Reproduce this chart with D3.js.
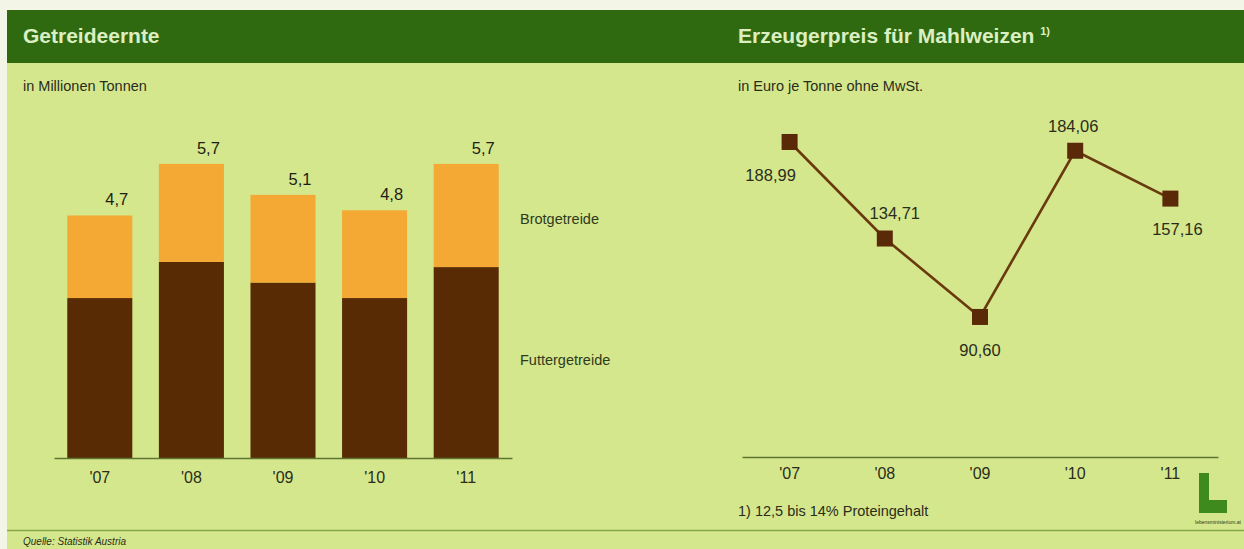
<!DOCTYPE html>
<html><head><meta charset="utf-8">
<script src="https://cdn.jsdelivr.net/npm/d3@7"></script>
<style>
html,body{margin:0;padding:0;background:#f3f6e6;}
svg{display:block;font-family:"Liberation Sans",Arial,Helvetica,sans-serif;}
</style></head>
<body>
<svg id="c" width="1244" height="549"></svg>
<script>
// ---- data ----
const years = ["'07","'08","'09","'10","'11"];
const futtergetreide = [3.1, 3.8, 3.4, 3.1, 3.7];
const brotgetreide   = [1.6, 1.9, 1.7, 1.7, 2.0];
const seriesNames = ["Futtergetreide","Brotgetreide"];
const priceYears = ["'07","'08","'09","'10","'11"];
const prices = [188.99, 134.71, 90.60, 184.06, 157.16];

const bg = "#d5e78d", header = "#2f6a10", orange = "#f4a934", brown = "#582b05";
const svg = d3.select("#c");
const comma = v => d3.format(".1f")(v).replace(".", ",");
const comma2 = v => d3.format(".2f")(v).replace(".", ",");

// panel background
svg.append("rect").attr("x",7).attr("y",63).attr("width",1237).attr("height",486).attr("fill",bg);
svg.append("rect").attr("x",7).attr("y",10).attr("width",1237).attr("height",53).attr("fill",header);
svg.append("text").attr("x",23).attr("y",43).attr("fill","#dcefc2").attr("font-size",21).attr("font-weight","bold").text("Getreideernte");
const t2 = svg.append("text").attr("x",738).attr("y",43).attr("fill","#dcefc2").attr("font-size",21).attr("font-weight","bold").text("Erzeugerpreis für Mahlweizen ");
t2.append("tspan").attr("font-size",11).attr("dy",-8).text("1)");
svg.append("text").attr("x",23).attr("y",91).attr("fill","#2a2d1a").attr("font-size",14.5).text("in Millionen Tonnen");
svg.append("text").attr("x",738).attr("y",91).attr("fill","#2a2d1a").attr("font-size",14.5).text("in Euro je Tonne ohne MwSt.");

// bottom divider
svg.append("line").attr("x1",7).attr("x2",1244).attr("y1",530.5).attr("y2",530.5).attr("stroke","#86a648").attr("stroke-width",1.5);
svg.append("text").attr("x",23).attr("y",545).attr("fill","#2a2d1a").attr("font-size",10).attr("font-style","italic").text("Quelle: Statistik Austria");

// ---- left: stacked bars ----
const x = d3.scaleBand().domain(years).range([54,512]).paddingInner(0.29).paddingOuter(0.145);
const y = d3.scaleLinear().domain([0,6]).range([458,148.4]);
const rows = years.map((yr,i)=>({year:yr, Futtergetreide:futtergetreide[i], Brotgetreide:brotgetreide[i]}));
const stack = d3.stack().keys(seriesNames)(rows);
const colors = {Futtergetreide:brown, Brotgetreide:orange};
svg.append("g").selectAll("g").data(stack).join("g").attr("fill",d=>colors[d.key])
  .selectAll("rect").data(d=>d).join("rect")
  .attr("x",d=>x(d.data.year)).attr("width",x.bandwidth())
  .attr("y",d=>y(d[1])).attr("height",d=>y(d[0])-y(d[1]));
svg.append("g").selectAll("text").data(rows).join("text")
  .attr("x",d=>x(d.year)+x.bandwidth()/2+17).attr("y",d=>y(d.Futtergetreide+d.Brotgetreide)-10)
  .attr("text-anchor","middle").attr("font-size",16.5).attr("fill","#1e1e12")
  .text(d=>comma(d.Futtergetreide+d.Brotgetreide));
const ax1 = svg.append("g").attr("transform","translate(0,458)")
  .call(d3.axisBottom(x).tickSize(0).tickPadding(13.5).tickSizeOuter(0));
ax1.select(".domain").attr("stroke","#5f7430").attr("stroke-width",1.5);
ax1.selectAll("text").attr("font-size",16).attr("fill","#2a2d1a").attr("font-family","Liberation Sans, Arial, sans-serif");
svg.append("text").attr("x",520).attr("y",224).attr("font-size",14.5).attr("fill","#2f3a1c").text("Brotgetreide");
svg.append("text").attr("x",520).attr("y",365).attr("font-size",14.5).attr("fill","#2f3a1c").text("Futtergetreide");

// ---- right: line ----
const x2 = d3.scaleBand().domain(priceYears).range([742,1218]);
const y2 = d3.scaleLinear().domain([0,200]).range([478.1,122.4]);
const pts = priceYears.map((yr,i)=>({year:yr, v:prices[i]}));
const cx = d => x2(d.year)+x2.bandwidth()/2;
svg.append("path").datum(pts).attr("fill","none").attr("stroke","#6a3a0e").attr("stroke-width",2.6)
  .attr("d", d3.line().x(cx).y(d=>y2(d.v)));
svg.append("g").selectAll("rect").data(pts).join("rect")
  .attr("x",d=>cx(d)-8).attr("y",d=>y2(d.v)-8).attr("width",16).attr("height",16).attr("fill","#5a2a08");
const lblPos = [{dx:-19,dy:39},{dx:10,dy:-20},{dx:0,dy:39},{dx:-2,dy:-19},{dx:7,dy:36}];
svg.append("g").selectAll("text").data(pts).join("text")
  .attr("x",(d,i)=>cx(d)+lblPos[i].dx).attr("y",(d,i)=>y2(d.v)+lblPos[i].dy)
  .attr("text-anchor","middle").attr("font-size",16.5).attr("fill","#2a2d1a")
  .text(d=>comma2(d.v));
const ax2 = svg.append("g").attr("transform","translate(0,457)")
  .call(d3.axisBottom(x2).tickSize(0).tickPadding(10.5).tickSizeOuter(0));
ax2.select(".domain").attr("stroke","#5f7430").attr("stroke-width",1.5);
ax2.selectAll("text").attr("font-size",16).attr("fill","#2a2d1a").attr("font-family","Liberation Sans, Arial, sans-serif");
svg.append("text").attr("x",738).attr("y",516).attr("font-size",14.5).attr("fill","#2a2d1a").text("1) 12,5 bis 14% Proteingehalt");

// logo
svg.append("path").attr("d","M1199,473 H1209 V500 H1227 V513 H1199 Z").attr("fill","#3f8a1c");
svg.append("text").attr("x",1218).attr("y",524).attr("text-anchor","middle").attr("font-size",5).attr("fill","#2a3a1a").text("lebensministerium.at");
</script>
</body></html>
